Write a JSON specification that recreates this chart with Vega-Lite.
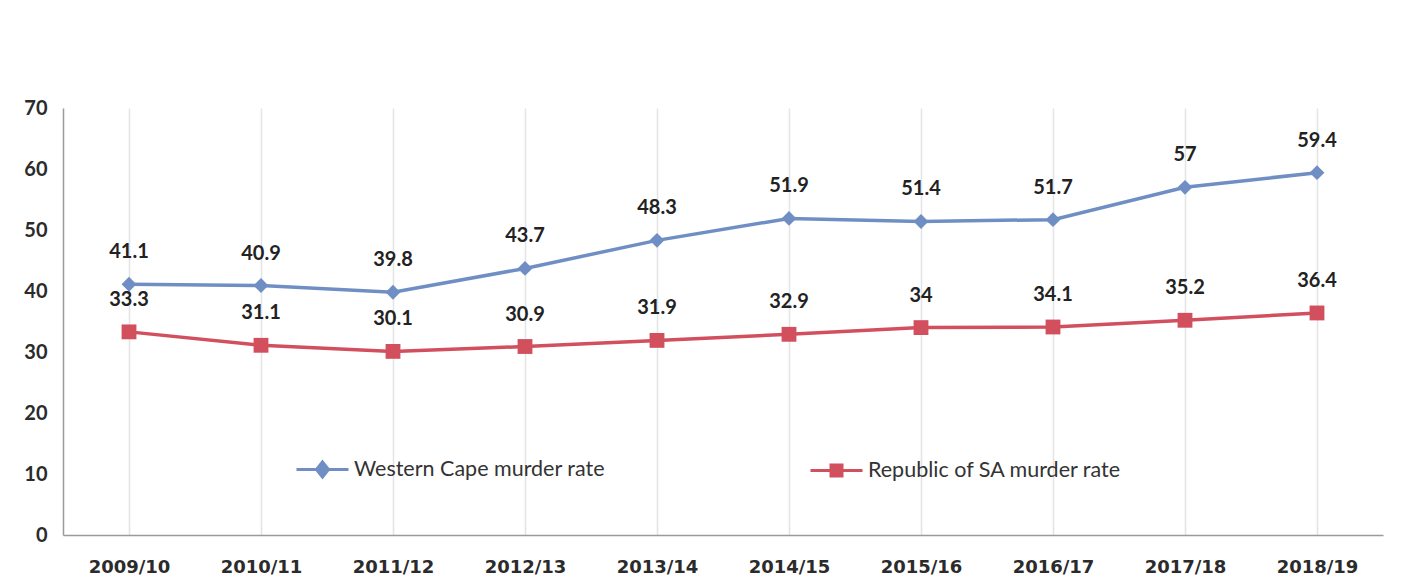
{
  "$schema": "https://vega.github.io/schema/vega-lite/v6.json",
  "autosize": "none",
  "width": 1320,
  "height": 427,
  "padding": {"left": 63, "top": 108, "right": 32, "bottom": 50},
  "background": "white",
  "config": {
    "view": {"stroke": null},
    "font": "Lato"
  },
  "data": {
    "values": [
      {"year": "2009/10", "series": "Western Cape murder rate", "rate": 41.1},
      {"year": "2010/11", "series": "Western Cape murder rate", "rate": 40.9},
      {"year": "2011/12", "series": "Western Cape murder rate", "rate": 39.8},
      {"year": "2012/13", "series": "Western Cape murder rate", "rate": 43.7},
      {"year": "2013/14", "series": "Western Cape murder rate", "rate": 48.3},
      {"year": "2014/15", "series": "Western Cape murder rate", "rate": 51.9},
      {"year": "2015/16", "series": "Western Cape murder rate", "rate": 51.4},
      {"year": "2016/17", "series": "Western Cape murder rate", "rate": 51.7},
      {"year": "2017/18", "series": "Western Cape murder rate", "rate": 57},
      {"year": "2018/19", "series": "Western Cape murder rate", "rate": 59.4},
      {"year": "2009/10", "series": "Republic of SA murder rate", "rate": 33.3},
      {"year": "2010/11", "series": "Republic of SA murder rate", "rate": 31.1},
      {"year": "2011/12", "series": "Republic of SA murder rate", "rate": 30.1},
      {"year": "2012/13", "series": "Republic of SA murder rate", "rate": 30.9},
      {"year": "2013/14", "series": "Republic of SA murder rate", "rate": 31.9},
      {"year": "2014/15", "series": "Republic of SA murder rate", "rate": 32.9},
      {"year": "2015/16", "series": "Republic of SA murder rate", "rate": 34},
      {"year": "2016/17", "series": "Republic of SA murder rate", "rate": 34.1},
      {"year": "2017/18", "series": "Republic of SA murder rate", "rate": 35.2},
      {"year": "2018/19", "series": "Republic of SA murder rate", "rate": 36.4}
    ]
  },
  "encoding": {
    "x": {
      "field": "year",
      "type": "ordinal",
      "scale": {"paddingInner": 0, "paddingOuter": 0},
      "axis": {
        "title": null,
        "labelAngle": 0,
        "bandPosition": 0,
        "grid": true,
        "gridColor": "#e4e4e4",
        "gridWidth": 1.5,
        "ticks": false,
        "domainColor": "#9a9a9a",
        "domainWidth": 1.5,
        "labelFont": "DejaVu Sans",
        "labelFontSize": 18,
        "labelFontWeight": "bold",
        "labelColor": "#2b2b2b",
        "labelPadding": 23
      }
    },
    "y": {
      "field": "rate",
      "type": "quantitative",
      "scale": {"domain": [0, 70]},
      "axis": {
        "title": null,
        "values": [0, 10, 20, 30, 40, 50, 60, 70],
        "grid": false,
        "ticks": false,
        "domainColor": "#9a9a9a",
        "domainWidth": 1.5,
        "labelFont": "Lato",
        "labelFontSize": 20,
        "labelFontWeight": "bold",
        "labelColor": "#2b2b2b",
        "labelPadding": 16
      }
    },
    "color": {
      "field": "series",
      "type": "nominal",
      "scale": {
        "domain": ["Western Cape murder rate", "Republic of SA murder rate"],
        "range": ["#6f8fc4", "#d24f5e"]
      },
      "legend": {
        "title": null,
        "orient": "none",
        "legendX": 248,
        "legendY": 350,
        "direction": "horizontal",
        "columns": 2,
        "columnPadding": 198,
        "symbolSize": 400,
        "symbolStrokeWidth": 3,
        "labelFont": "Lato",
        "labelFontSize": 21.5,
        "labelColor": "#333333",
        "labelLimit": 0,
        "labelOffset": 20,
        "encode": {
          "symbols": {
            "update": {
              "shape": [
                {"test": "datum.value === 'Western Cape murder rate'", "value": "M-2.6,0H2.6M0,-0.75L0.6,0L0,0.75L-0.6,0Z"},
                {"value": "M-2.6,0H2.6M-0.55,-0.55H0.55V0.55H-0.55Z"}
              ]
            }
          }
        }
      }
    }
  },
  "layer": [
    {
      "mark": {"type": "line", "strokeWidth": 3.5}
    },
    {
      "mark": {"type": "point", "filled": true, "opacity": 1},
      "encoding": {
        "shape": {
          "condition": {"test": "datum.series === 'Western Cape murder rate'", "value": "diamond"},
          "value": "square"
        },
        "size": {"value": 220}
      }
    },
    {
      "mark": {"type": "text", "dy": -32, "font": "Lato", "fontSize": 20, "fontWeight": "bold"},
      "encoding": {
        "text": {"field": "rate", "type": "quantitative"},
        "color": {"value": "#222222"}
      }
    }
  ]
}
